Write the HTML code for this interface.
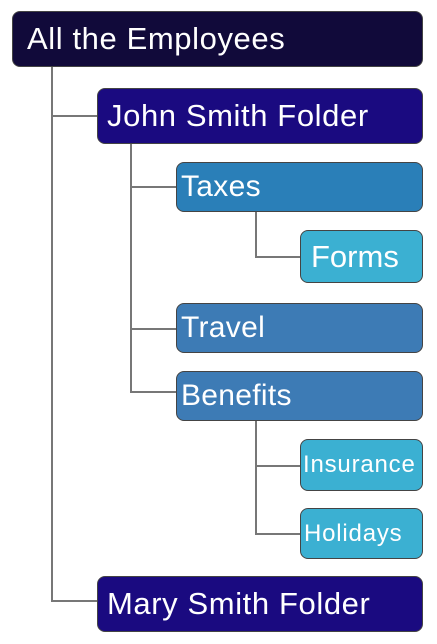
<!DOCTYPE html>
<html><head><style>
body{margin:0;width:437px;height:644px;background:#fff;position:relative;overflow:hidden;font-family:"Liberation Sans",sans-serif;}
.b{position:absolute;box-sizing:border-box;border:1.5px solid #444;border-radius:8px;color:#fff;display:flex;align-items:center;padding-left:5px;white-space:nowrap;overflow:hidden;}
.l{position:absolute;background:#777;}
</style></head><body>
<div class="l" style="left:51px;top:66px;width:1.5px;height:535px"></div>
<div class="l" style="left:51px;top:115px;width:46px;height:1.5px"></div>
<div class="l" style="left:51px;top:600px;width:46px;height:1.5px"></div>
<div class="l" style="left:130px;top:143px;width:1.5px;height:249px"></div>
<div class="l" style="left:130px;top:186px;width:46px;height:1.5px"></div>
<div class="l" style="left:130px;top:328px;width:46px;height:1.5px"></div>
<div class="l" style="left:130px;top:391px;width:46px;height:1.5px"></div>
<div class="l" style="left:255px;top:211px;width:1.5px;height:46px"></div>
<div class="l" style="left:255px;top:256px;width:45px;height:1.5px"></div>
<div class="l" style="left:255px;top:420px;width:1.5px;height:114px"></div>
<div class="l" style="left:255px;top:465px;width:45px;height:1.5px"></div>
<div class="l" style="left:255px;top:533px;width:45px;height:1.5px"></div>

<div class="b" style="left:12px;top:11px;width:411px;height:56px;background:#110a3a;font-size:31px;letter-spacing:0.6px;padding-left:14px">All the Employees</div>
<div class="b" style="left:97px;top:88px;width:326px;height:56px;background:#1a0a80;font-size:31px;letter-spacing:0.6px;padding-left:9px">John Smith Folder</div>
<div class="b" style="left:176px;top:162px;width:247px;height:50px;background:#2a7fb8;font-size:30px;letter-spacing:0.3px;padding-left:4px">Taxes</div>
<div class="b" style="left:300px;top:230px;width:123px;height:53px;background:#3bb0d2;font-size:31px;padding-left:10px">Forms</div>
<div class="b" style="left:176px;top:303px;width:247px;height:50px;background:#3d7bb5;font-size:30px;letter-spacing:0.3px;padding-left:4px">Travel</div>
<div class="b" style="left:176px;top:371px;width:247px;height:50px;background:#3d7bb5;font-size:30px;letter-spacing:0.3px;padding-left:4px">Benefits</div>
<div class="b" style="left:300px;top:439px;width:123px;height:52px;background:#3bb0d2;font-size:24px;letter-spacing:0.8px;padding-left:2px">Insurance</div>
<div class="b" style="left:300px;top:508px;width:123px;height:51px;background:#3bb0d2;font-size:24px;letter-spacing:0.8px;padding-left:3px">Holidays</div>
<div class="b" style="left:97px;top:576px;width:326px;height:56px;background:#1a0a80;font-size:31px;letter-spacing:0.6px;padding-left:9px">Mary Smith Folder</div>
</body></html>
